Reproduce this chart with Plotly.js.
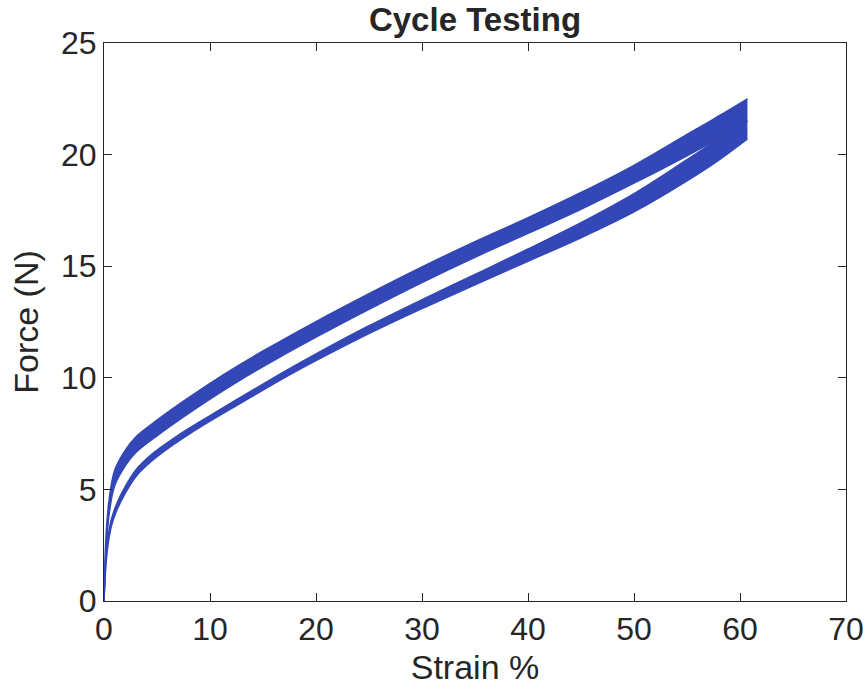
<!DOCTYPE html>
<html>
<head>
<meta charset="utf-8">
<script src="https://cdn.plot.ly/plotly-3.0.1.min.js"></script>
<style>
  html, body { margin: 0; padding: 0; background: #fff; }
  #chart { width: 866px; height: 694px; }
</style>
</head>
<body>
<div id="chart"></div>
<script>
// Strain (%) sample points for the loading branch
const loadStrain = [0, 0.2, 0.5, 1, 2, 3, 5, 7.5, 10, 12.5, 15, 20, 25, 30, 35, 40, 45, 50, 55, 58, 60.7];
// Loading force (N): first cycle (highest) and last cycle (lowest)
const loadForceFirst = [0, 3.0, 4.6, 5.85, 6.75, 7.35, 8.1, 8.95, 9.75, 10.5, 11.2, 12.52, 13.77, 14.97, 16.1, 17.17, 18.3, 19.52, 20.9, 21.73, 22.5];
const loadForceLast  = [0, 2.3, 3.95, 5.15, 6.05, 6.65, 7.4, 8.25, 9.05, 9.8, 10.5, 11.82, 13.07, 14.27, 15.4, 16.47, 17.55, 18.72, 19.95, 20.73, 21.5];

// Strain (%) sample points for the unloading branch
const unloadStrain = [0, 0.2, 0.4, 0.7, 1.2, 2, 3, 4.5, 6.5, 8, 10, 12.5, 15, 17.5, 20, 25, 30, 35, 40, 45, 50, 55, 58, 60.7];
// Unloading force (N): upper and lower envelope of the cycles
const unloadForceHigh = [0, 2.1, 2.94, 3.66, 4.36, 5.12, 5.87, 6.57, 7.26, 7.73, 8.31, 9.02, 9.72, 10.41, 11.07, 12.33, 13.5, 14.63, 15.77, 16.95, 18.25, 19.77, 20.7, 21.5];
const unloadForceLow  = [0, 1.7, 2.59, 3.36, 4.06, 4.82, 5.57, 6.27, 6.99, 7.47, 8.06, 8.76, 9.45, 10.13, 10.77, 11.98, 13.1, 14.17, 15.22, 16.27, 17.43, 18.82, 19.75, 20.7];

// Axis ticks
const xTicks = [0, 10, 20, 30, 40, 50, 60, 70];
const yTicks = [0, 5, 10, 15, 20, 25];

const blue = '#3347b6';
const ink = '#262626';

// Each branch is drawn as the band swept out by its cycles
function band(x, hi, lo) {
  return [
    { x: x, y: hi, type: 'scatter', mode: 'lines',
      line: { color: blue, width: 1.5, shape: 'spline', smoothing: 1 },
      hoverinfo: 'skip', showlegend: false },
    { x: x, y: lo, type: 'scatter', mode: 'lines', fill: 'tonexty',
      fillcolor: blue, line: { color: blue, width: 1.5, shape: 'spline', smoothing: 1 },
      hoverinfo: 'skip', showlegend: false }
  ];
}

const traces = [
  ...band(loadStrain, loadForceFirst, loadForceLast),
  ...band(unloadStrain, unloadForceHigh, unloadForceLow)
];

const axisCommon = {
  showgrid: false, zeroline: false,
  showline: true, linecolor: ink, linewidth: 1, mirror: 'ticks',
  ticks: 'inside', ticklen: 8, tickwidth: 1, tickcolor: ink,
  tickfont: { family: 'Liberation Sans, Arial, sans-serif', size: 32, color: ink }
};

const layout = {
  width: 866, height: 694,
  margin: { l: 104, r: 20, t: 43, b: 93 },
  paper_bgcolor: '#fff', plot_bgcolor: '#fff',
  title: {
    text: '<b>Cycle Testing</b>',
    font: { family: 'Liberation Sans, Arial, sans-serif', size: 33, color: ink },
    x: 0.5, xref: 'paper', xanchor: 'center',
    y: 1 - 19 / 694, yref: 'container', yanchor: 'middle'
  },
  xaxis: Object.assign({}, axisCommon, {
    range: [0, 70], tickvals: xTicks, ticktext: xTicks.map(String),
    title: { text: 'Strain %', standoff: 8,
      font: { family: 'Liberation Sans, Arial, sans-serif', size: 34, color: ink } }
  }),
  yaxis: Object.assign({}, axisCommon, {
    range: [0, 25], tickvals: yTicks, ticktext: yTicks.map(String),
    title: { text: 'Force (N)', standoff: 12,
      font: { family: 'Liberation Sans, Arial, sans-serif', size: 34, color: ink } }
  })
};

Plotly.newPlot('chart', traces, layout, { displayModeBar: false, staticPlot: true });
</script>
</body>
</html>
